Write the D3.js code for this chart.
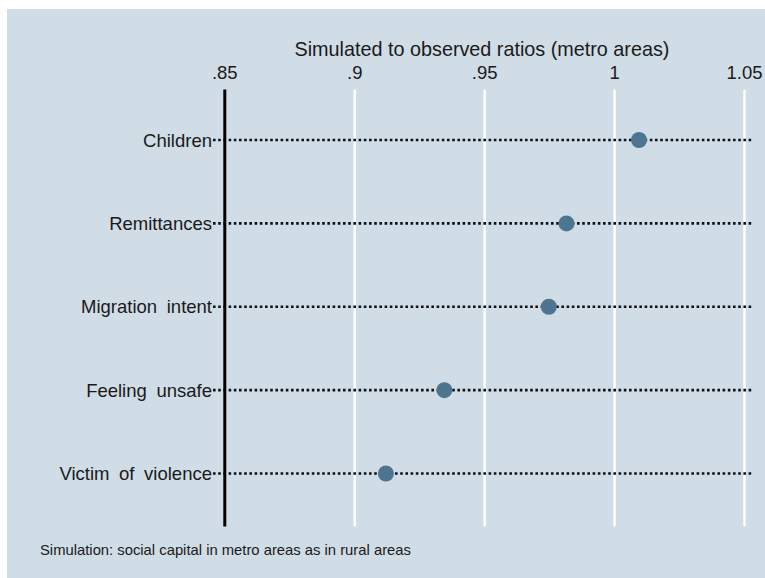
<!DOCTYPE html>
<html>
<head>
<meta charset="utf-8">
<script src="https://cdn.jsdelivr.net/npm/d3@7"></script>
<style>
  body { margin: 0; background: #fff; }
  text { font-family: "Liberation Sans", Arial, sans-serif; fill: #1a1a1a; }
</style>
</head>
<body>
<div id="chart"></div>
<script>
// data
const categories = ["Children", "Remittances", "Migration intent", "Feeling unsafe", "Victim of violence"];
const ratios = [1.0094, 0.9815, 0.9747, 0.9345, 0.9120];
const ticks = [0.85, 0.9, 0.95, 1, 1.05];
const tickLabels = [".85", ".9", ".95", "1", "1.05"];

const W = 765, H = 578;
const svg = d3.select("#chart").append("svg")
    .attr("width", W)
    .attr("height", H);

// panel background
svg.append("rect")
    .attr("x", 7).attr("y", 9)
    .attr("width", W - 7).attr("height", H - 9)
    .attr("fill", "#d0dce6");

const x = d3.scaleLinear()
    .domain([0.85, 1.05])
    .range([224.8, 744.5]);

const y = d3.scalePoint()
    .domain(categories)
    .range([140, 473.5]);

const plotTop = 89.5, plotBottom = 526.5;

// white grid lines (the .85 one is the black axis line)
svg.append("g")
    .selectAll("line")
    .data(ticks.slice(1))
    .enter().append("line")
    .attr("x1", d => x(d)).attr("x2", d => x(d))
    .attr("y1", plotTop).attr("y2", plotBottom)
    .attr("stroke", "#fff")
    .attr("stroke-width", 2.5);

// dotted rows
svg.append("g")
    .selectAll("line")
    .data(categories)
    .enter().append("line")
    .attr("x1", 213).attr("x2", 752)
    .attr("y1", d => y(d)).attr("y2", d => y(d))
    .attr("stroke", "#111")
    .attr("stroke-width", 2.6)
    .attr("stroke-dasharray", "2.6,2.6");

// axis line at .85
svg.append("line")
    .attr("x1", x(0.85)).attr("x2", x(0.85))
    .attr("y1", plotTop).attr("y2", plotBottom)
    .attr("stroke", "#000")
    .attr("stroke-width", 3);

// top tick labels
svg.append("g")
    .selectAll("text")
    .data(ticks)
    .enter().append("text")
    .attr("x", x)
    .attr("y", 79)
    .attr("text-anchor", "middle")
    .style("font-size", "18.5px")
    .text((d, i) => tickLabels[i]);

// axis title
svg.append("text")
    .attr("x", 482)
    .attr("y", 56)
    .attr("text-anchor", "middle")
    .style("font-size", "19.8px")
    .text("Simulated to observed ratios (metro areas)");

// category labels
svg.append("g")
    .selectAll("text")
    .data(categories)
    .enter().append("text")
    .attr("x", 212)
    .attr("y", d => y(d))
    .attr("dy", "0.36em")
    .attr("text-anchor", "end")
    .style("font-size", "18.5px")
    .style("word-spacing", "4.5px")
    .text(d => d);

// dots
svg.append("g")
    .selectAll("circle")
    .data(ratios)
    .enter().append("circle")
    .attr("cx", d => x(d))
    .attr("cy", (d, i) => y(categories[i]))
    .attr("r", 8)
    .attr("fill", "#4e7590");

// note
svg.append("text")
    .attr("x", 40)
    .attr("y", 555)
    .style("font-size", "14.8px")
    .text("Simulation: social capital in metro areas as in rural areas");
</script>
</body>
</html>
